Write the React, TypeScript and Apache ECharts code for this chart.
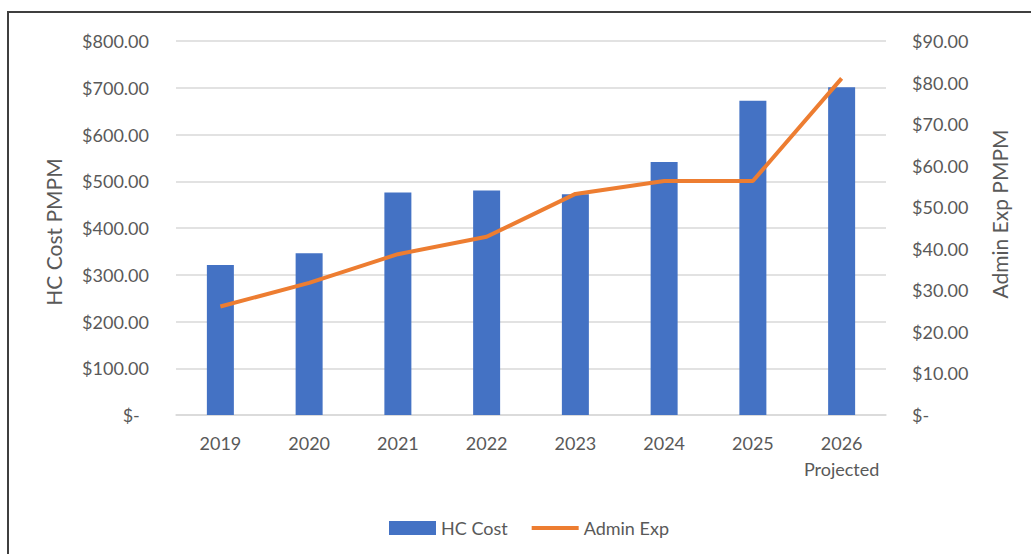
import React, { useEffect, useRef } from "react";
import * as echarts from "echarts";

const categories = ["2019", "2020", "2021", "2022", "2023", "2024", "2025", "2026\nProjected"];
const hcCost = [321, 346, 476, 480, 472, 541, 672, 701];
const adminExp = [26.1, 31.8, 38.7, 42.9, 53.2, 56.3, 56.3, 81.0];
const seriesNames = ["HC Cost", "Admin Exp"];
const axisTitles = ["HC Cost PMPM", "Admin Exp PMPM"];

const FONT = "Lato, 'Noto Sans', sans-serif";
const TEXT = "#595959";

function fmt(v: number): string {
  if (v === 0) return "$-\u00A0\u00A0";
  return "$" + v.toFixed(2);
}
function fmtR(v: number): string {
  if (v === 0) return "$-";
  return "$" + v.toFixed(2);
}

export default function App() {
  const ref = useRef<HTMLDivElement>(null);
  useEffect(() => {
    document.body.style.margin = "0";
    if (!ref.current) return;
    const chart = echarts.init(ref.current, null, { renderer: "svg" });
    chart.setOption({
      animation: false,
      backgroundColor: "#ffffff",
      grid: { left: 176, right: 145, top: 41, bottom: 139 },
      legend: {
        data: [
          { name: seriesNames[0], icon: "rect" },
          { name: seriesNames[1], icon: "path://M0,0H48V4H0Z", itemStyle: { color: "#ED7D31" } },
        ],
        left: 384,
        top: 514,
        itemWidth: 47,
        itemHeight: 14,
        itemGap: 24,
        textStyle: { color: TEXT, fontFamily: FONT, fontSize: 18 },
      },
      xAxis: {
        type: "category",
        data: categories,
        axisLine: { show: true, lineStyle: { color: "#d9d9d9", width: 1.5 } },
        axisTick: { show: false },
        axisLabel: {
          color: TEXT,
          fontFamily: FONT,
          fontSize: 18,
          lineHeight: 26,
          margin: 15,
          interval: 0,
        },
      },
      yAxis: [
        {
          type: "value",
          min: 0,
          max: 800,
          interval: 100,
          axisLine: { show: false },
          axisTick: { show: false },
          splitLine: { show: true, lineStyle: { color: "#d9d9d9", width: 1.5 } },
          axisLabel: { color: TEXT, fontFamily: FONT, fontSize: 18, margin: 27, formatter: fmt },
        },
        {
          type: "value",
          min: 0,
          max: 90,
          interval: 10,
          axisLine: { show: false },
          axisTick: { show: false },
          splitLine: { show: false },
          axisLabel: { color: TEXT, fontFamily: FONT, fontSize: 18, margin: 26, formatter: fmtR },
        },
      ],
      series: [
        {
          name: seriesNames[0],
          type: "bar",
          data: hcCost,
          barWidth: 27,
          yAxisIndex: 0,
          itemStyle: { color: "#4472C4" },
        },
        {
          name: seriesNames[1],
          type: "line",
          data: adminExp,
          yAxisIndex: 1,
          symbol: "none",
          showSymbol: false,
          lineStyle: { color: "#ED7D31", width: 4 },
          itemStyle: { color: "#ED7D31" },
        },
      ],
      graphic: [
        {
          type: "rect",
          shape: { x: 8, y: 12, width: 1060, height: 580 },
          style: { fill: "none", stroke: "#3f3f3f", lineWidth: 2 },
          silent: true,
        },
        {
          type: "text",
          x: 53,
          y: 232,
          rotation: Math.PI / 2,
          style: {
            text: axisTitles[0],
            align: "center",
            verticalAlign: "middle",
            fill: TEXT,
            fontFamily: FONT,
            fontSize: 21,
          },
        },
        {
          type: "text",
          x: 999,
          y: 214,
          rotation: Math.PI / 2,
          style: {
            text: axisTitles[1],
            align: "center",
            verticalAlign: "middle",
            fill: TEXT,
            fontFamily: FONT,
            fontSize: 21,
          },
        },
      ],
    });
    return () => chart.dispose();
  }, []);
  return <div ref={ref} style={{ width: 1031, height: 554 }} />;
}
